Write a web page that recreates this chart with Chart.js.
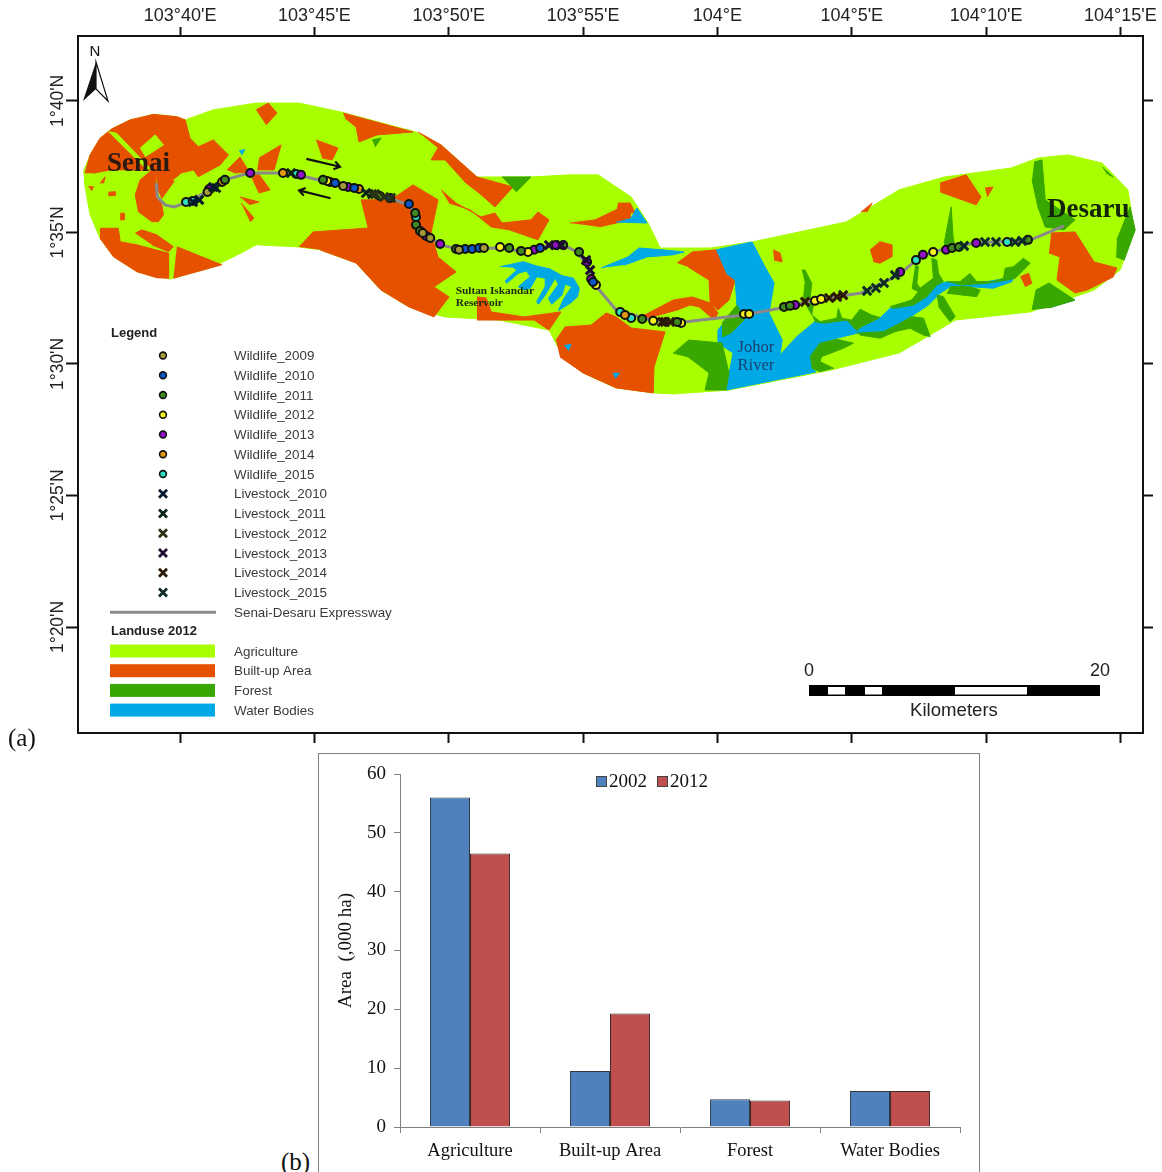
<!DOCTYPE html>
<html><head><meta charset="utf-8">
<script src="https://cdn.jsdelivr.net/npm/chart.js@4"></script>
<style>
html,body{margin:0;padding:0;background:#fff;width:1162px;height:1172px;overflow:hidden}
canvas{position:absolute;display:block}
#frameB{position:absolute;left:318px;top:753px;width:662px;height:430px;border:1px solid #7f7f7f;box-sizing:border-box}
.tag{position:absolute;font:25px "Liberation Serif",serif;color:#111}
</style></head><body>
<canvas id="map" style="left:0;top:0" width="1162" height="752"></canvas>
<div id="frameB"></div>
<canvas id="bars" style="left:318px;top:753px" width="661" height="419"></canvas>
<div class="tag" style="left:8px;top:724px">(a)</div>
<div class="tag" style="left:281px;top:1148px">(b)</div>
<script>
/* ===== panel (b) values ===== */
const barCategories=['Agriculture','Built-up Area','Forest','Water Bodies'];
const area2002=[56,9.5,4.7,6.1];
const area2012=[46.5,19.3,4.5,6.1];

/* ===== panel (a) axes: minutes past 103°E and minutes past 1°N ===== */
const lonTickValues=[40,45,50,55,60,65,70,75];
const lonTickLabels=["103°40'E","103°45'E","103°50'E","103°55'E","104°E","104°5'E","104°10'E","104°15'E"];
const latTickValues=[40,35,30,25,20];
const latTickLabels=["1°40'N","1°35'N","1°30'N","1°25'N","1°20'N"];

/* ===== land use polygons, [lon minutes, lat minutes] ===== */
const studyArea=[[36.40,37.31],[36.65,37.95],[37.02,38.58],[37.46,38.94],[38.14,39.28],[39.01,39.49],[39.88,39.40],[40.19,39.28],[41.23,39.66],[42.83,39.92],[44.43,39.92],[45.99,39.58],[48.78,38.82],[49.71,38.33],[51.05,37.11],[53.06,37.11],[54.52,37.19],[55.56,37.19],[56.79,36.35],[57.42,35.36],[57.87,34.41],[59.73,34.41],[61.29,34.64],[64.79,35.40],[66.76,36.62],[68.44,37.11],[70.93,37.45],[71.93,37.83],[73.05,37.95],[74.32,37.64],[75.28,36.62],[75.51,35.10],[74.99,33.57],[74.02,32.81],[71.64,31.98],[68.85,31.67],[67.80,31.03],[66.76,30.42],[64.23,29.77],[60.43,29.01],[58.35,28.86],[57.64,28.90],[56.23,29.09],[55.0,29.66],[54.26,30.27],[53.73,31.29],[51.87,31.67],[49.86,31.79],[48.52,32.17],[47.48,32.81],[46.55,33.84],[45.21,34.34],[44.43,34.45],[42.83,34.53],[42.27,34.22],[41.23,33.69],[39.63,33.23],[38.39,33.51],[37.52,34.08],[37.02,34.78],[36.65,35.67],[36.43,36.93]];
const agriPatches=[
[[37.33,38.83],[37.64,38.77],[38.88,37.44],[38.76,37.38]],
[[38.51,38.20],[39.07,38.71],[39.38,38.33],[38.70,37.88]],
[[39.75,36.99],[40.12,37.25],[40.31,36.99],[40.00,36.81]]];
const builtUp=[
[[36.46,37.25],[36.65,37.95],[37.02,38.58],[37.46,38.94],[38.14,39.28],[39.01,39.49],[39.88,39.40],[40.19,39.28],[40.37,38.58],[40.68,38.26],[41.24,38.52],[41.80,37.95],[41.49,37.57],[40.68,37.12],[40.50,37.38],[40.00,37.25],[39.32,36.30],[39.16,36.68],[39.11,37.38],[39.07,36.68],[39.32,36.05],[39.38,35.67],[39.19,35.41],[38.95,35.41],[38.45,35.79],[38.33,36.43],[38.51,36.99],[38.95,37.38],[37.39,37.38],[36.77,37.25]],
[[37.02,35.16],[37.70,35.16],[37.77,34.65],[38.39,34.53],[39.57,34.21],[39.57,33.26],[39.13,33.28],[38.39,33.51],[37.52,34.08],[37.02,34.78]],
[[39.88,34.46],[41.55,33.77],[39.75,33.26]],
[[38.33,34.97],[38.57,35.10],[39.13,34.91],[39.75,34.46],[39.57,34.27],[38.95,34.53]],
[[37.02,36.87],[37.21,37.12],[37.15,36.87]],
[[36.59,36.74],[36.77,36.74],[36.71,36.58]],
[[37.33,36.53],[37.58,36.55],[37.58,36.40],[37.33,36.40]],
[[37.77,35.73],[37.92,35.73],[37.92,35.48],[37.77,35.48]],
[[42.83,39.66],[43.28,39.92],[43.61,39.54],[43.20,39.09]],
[[45.06,38.52],[45.88,38.21],[45.66,37.76],[45.29,37.83]],
[[46.07,39.54],[48.67,38.82],[47.33,38.71],[46.66,38.44],[46.55,39.01],[46.14,39.35]],
[[48.86,38.82],[49.71,38.33],[51.05,37.11],[52.39,36.73],[51.72,35.97],[51.13,36.50],[50.64,36.88],[49.86,37.76],[49.34,37.76],[49.60,38.21]],
[[44.43,34.45],[44.95,35.02],[47.0,35.17],[46.74,36.24],[47.85,36.24],[48.67,36.81],[49.60,36.24],[49.34,34.98],[49.60,34.07],[50.27,33.50],[49.45,32.93],[50.01,32.55],[49.45,31.79],[48.52,32.17],[47.48,32.81],[46.55,33.84],[45.21,34.34]],
[[42.94,37.83],[43.76,38.33],[43.50,37.38],[42.87,37.38]],
[[41.75,37.38],[42.23,37.87],[42.57,37.30],[42.01,37.26]],
[[42.87,37.30],[43.35,36.62],[42.94,36.50],[42.68,37.07]],
[[42.23,36.35],[42.94,36.16],[42.57,36.05]],
[[42.27,36.12],[42.75,35.55],[42.61,35.40]],
[[49.71,36.62],[50.27,36.12],[51.20,35.59],[51.72,35.74],[51.98,35.36],[53.06,35.48],[53.32,35.78],[53.73,35.48],[53.32,34.72],[52.25,35.10],[51.58,35.21],[50.79,35.86],[50.01,36.12]],
[[54.52,35.36],[55.45,35.48],[56.75,36.12],[56.75,35.48],[55.60,35.21]],
[[51.05,32.55],[51.39,32.51],[51.58,31.98],[52.80,31.79],[54.18,31.98],[53.73,31.29],[53.18,31.67],[51.87,31.67],[51.05,31.67]],
[[53.99,30.91],[54.33,31.41],[55.30,31.48],[55.86,31.94],[56.23,31.79],[56.79,31.37],[58.05,31.22],[57.64,29.89],[57.61,28.90],[56.23,29.09],[55.0,29.66],[54.14,30.27]],
[[58.50,33.84],[59.06,34.26],[59.95,34.34],[60.32,33.46],[60.66,33.19],[60.43,32.43],[60.02,32.05],[59.73,32.32],[59.69,33.19],[58.91,33.69]],
[[57.16,31.79],[58.35,32.43],[59.06,32.55],[59.73,32.32],[60.02,31.94],[59.88,31.67],[59.32,32.17],[58.98,32.24],[58.50,32.05],[57.42,31.75]],
[[68.29,36.88],[69.26,37.19],[69.81,36.35],[69.63,36.05],[68.29,36.54]],
[[69.96,36.69],[70.26,36.73],[70.04,36.35]],
[[65.68,34.33],[66.05,34.65],[66.49,34.53],[66.49,34.08],[66.05,33.83],[65.81,33.89]],
[[65.35,35.78],[65.76,36.12],[65.57,35.78]],
[[62.07,34.34],[62.33,34.22],[62.41,33.88],[62.11,33.95]],
[[72.42,34.98],[73.31,35.02],[74.02,33.88],[74.87,33.65],[74.73,33.31],[73.76,32.81],[73.31,32.70],[72.64,33.19],[72.75,34.07],[72.34,34.22]],
[[71.27,33.32],[71.58,33.45],[71.70,33.07],[71.45,32.94]],
[[56.30,36.12],[56.75,36.12],[56.94,35.74],[56.23,35.78]]];
const forest=[
[[71.79,37.68],[72.08,37.76],[72.20,36.24],[73.31,35.48],[72.90,35.10],[72.20,35.21],[71.93,35.97],[71.71,37.0]],
[[74.87,34.72],[75.36,35.97],[75.55,35.10],[75.14,33.95],[74.84,34.07]],
[[71.71,32.05],[71.86,32.81],[72.34,33.08],[73.31,32.43],[72.34,32.13]],
[[74.32,37.49],[74.73,37.11],[74.47,37.26]],
[[60.17,31.56],[60.73,32.24],[60.99,31.67],[60.51,31.18],[60.17,31.03]],
[[58.91,30.91],[60.17,30.80],[60.43,29.66],[60.32,29.01],[59.54,29.01],[59.69,29.66],[58.91,30.27],[58.35,30.42]],
[[63.14,33.57],[63.26,33.57],[63.51,33.07],[63.45,32.50],[63.57,32.24],[63.51,31.87],[63.20,32.43],[63.26,33.07]],
[[63.51,31.87],[63.82,31.61],[64.44,31.74],[64.50,32.12],[64.63,31.74],[65.00,31.67],[65.31,32.08],[65.74,31.86],[66.05,31.77],[65.31,31.39],[65.19,31.27],[64.81,31.67],[63.95,31.55],[63.63,31.61]],
[[67.36,33.76],[67.48,33.70],[67.42,33.07],[67.54,32.88],[68.04,33.26],[67.98,34.02],[68.16,33.95],[68.23,33.44],[68.41,33.13],[68.16,33.00],[67.79,32.56],[67.29,32.24],[66.55,32.12],[66.43,32.18],[67.23,32.43],[67.48,32.75],[67.23,32.88]],
[[68.54,33.13],[69.03,33.13],[69.40,33.44],[69.65,33.13],[70.27,33.13],[70.65,33.26],[70.71,33.64],[71.02,33.70],[71.39,34.02],[71.64,33.83],[71.39,33.57],[71.08,33.26],[70.77,33.19],[70.02,33.07],[69.03,33.00]],
[[68.66,32.94],[69.40,32.94],[69.78,32.81],[69.65,32.56],[68.54,32.69]],
[[68.16,32.62],[68.41,32.56],[68.85,31.80],[68.66,31.61],[68.23,32.18]],
[[65.19,31.17],[66.18,31.23],[66.67,31.48],[67.23,31.80],[67.67,31.74],[67.92,31.04],[67.67,31.10],[67.17,31.36],[66.61,31.23],[66.05,30.98],[65.31,31.10]],
[[63.45,30.28],[63.82,30.79],[64.44,30.94],[65.06,30.79],[64.69,30.60],[64.19,30.40],[63.88,30.28],[63.82,30.09],[64.07,29.96],[64.32,29.84],[63.82,29.71],[63.51,29.84]],
[[68.44,34.60],[68.70,35.97],[68.77,34.83],[68.85,34.45],[68.44,34.34]],
[[51.98,37.11],[53.06,37.11],[52.51,36.54]],
[[47.15,38.52],[47.48,38.59],[47.26,38.25]]];
const water=[
[[59.95,34.34],[61.29,34.64],[61.77,33.69],[62.11,33.08],[61.92,31.94],[62.41,30.91],[62.33,30.34],[62.95,31.04],[63.63,31.61],[63.95,31.55],[64.81,31.67],[65.31,31.36],[66.05,31.74],[66.43,32.12],[67.29,32.24],[67.79,32.56],[68.16,33.00],[68.54,33.13],[69.03,33.07],[70.02,33.13],[70.77,33.26],[71.02,33.26],[70.95,33.13],[70.27,32.88],[69.40,32.94],[68.66,32.94],[68.29,32.69],[67.85,32.24],[67.29,31.86],[66.67,31.48],[66.18,31.23],[65.19,31.17],[64.44,30.98],[63.82,30.79],[63.45,30.28],[63.51,29.84],[63.67,29.70],[60.32,29.01],[60.58,30.42],[60.02,30.80],[60.02,31.29],[60.73,32.17],[60.66,33.19],[60.32,33.46]],
[[55.67,33.65],[56.67,34.07],[57.08,34.41],[57.94,34.34],[58.76,34.26],[58.35,34.15],[57.38,34.07],[56.53,33.76]],
[[51.91,33.70],[52.78,33.89],[53.21,33.74],[53.77,33.61],[54.21,33.36],[54.64,33.26],[54.86,32.88],[54.79,32.56],[54.52,32.31],[54.08,32.03],[54.29,32.50],[54.58,32.94],[54.33,33.03],[54.21,32.62],[53.83,32.27],[53.71,32.50],[54.08,33.03],[53.96,33.26],[53.59,32.62],[53.34,32.27],[53.27,32.37],[53.59,32.94],[53.59,33.26],[53.28,33.32],[53.03,32.88],[52.78,32.81],[52.59,32.94],[53.03,33.32],[52.90,33.54],[52.59,33.45],[52.16,33.07],[52.10,33.16],[52.53,33.57],[52.41,33.66]],
[[56.79,35.55],[57.0,35.93],[57.38,35.36],[56.23,35.40]],
[[72.12,32.32],[72.64,32.55],[73.31,32.43],[72.34,32.13]],
[[42.2,38.1],[42.4,38.15],[42.3,37.95]],
[[54.3,30.7],[54.55,30.75],[54.45,30.5]],
[[56.1,29.65],[56.35,29.65],[56.2,29.45]]];

/* ===== expressway ===== */
const expressway=[[39.11,36.88],[39.16,36.35],[39.44,36.05],[39.78,35.97],[40.30,36.16],[41.23,36.69],[41.67,37.0],[42.57,37.26],[43.87,37.26],[44.54,37.15],[45.36,36.95],[46.55,36.69],[47.74,36.31],[48.52,36.05],[48.75,35.74],[48.78,35.21],[49.34,34.79],[49.71,34.52],[50.38,34.37],[51.87,34.41],[52.65,34.30],[53.44,34.45],[54.26,34.52],[54.78,34.26],[55.19,33.69],[55.45,33.0],[56.23,32.05],[57.64,31.64],[58.76,31.60],[60.99,31.86],[62.56,32.17],[63.67,32.44],[65.35,32.70],[66.76,33.38],[67.39,33.95],[67.99,34.26],[69.55,34.60],[71.64,34.71],[72.90,35.25]];

/* ===== roadkill sightings ===== */
const wildlife2009=[[41.02,36.54],[46.07,36.77],[49.03,34.98],[49.31,34.79],[50.38,34.34],[51.31,34.41]];
const wildlife2010=[[45.77,36.88],[46.48,36.69],[47.82,36.31],[48.52,36.08],[50.61,34.37],[50.87,34.37],[51.13,34.41],[53.40,34.41],[55.37,33.12]];
const wildlife2011=[[41.67,37.0],[45.32,37.0],[47.44,36.39],[48.75,35.74],[48.78,35.29],[48.93,35.06],[50.27,34.37],[52.25,34.41],[52.69,34.30],[54.26,34.52],[54.85,34.26],[57.20,31.71],[58.50,31.60],[62.48,32.17],[62.70,32.21],[68.73,34.41],[68.99,34.45],[71.56,34.72]];
const wildlife2012=[[45.47,36.96],[51.91,34.45],[52.95,34.26],[55.48,33.0],[57.61,31.64],[58.65,31.56],[60.99,31.90],[61.18,31.90],[63.63,32.40],[63.86,32.47],[68.03,34.26]];
const wildlife2013=[[41.08,36.65],[42.61,37.26],[44.50,37.19],[46.25,36.73],[49.16,34.87],[49.68,34.56],[53.18,34.34],[53.99,34.52],[55.15,33.88],[55.30,33.23],[62.89,32.24],[66.80,33.50],[67.65,34.15],[68.51,34.34],[69.63,34.60]];
const wildlife2014=[[41.56,36.92],[43.83,37.26],[46.66,36.65],[56.56,31.86]];
const wildlife2015=[[40.22,36.16],[40.47,36.20],[44.32,37.22],[45.58,36.92],[48.78,35.59],[56.38,31.98],[56.79,31.75],[67.39,33.95],[70.78,34.64]];
const livestock2010=[[40.48,36.16],[40.71,36.24],[41.23,36.73]];
const livestock2011=[[41.34,36.69],[44.13,37.26],[46.92,36.50]];
const livestock2012=[[47.15,36.46],[47.26,36.46],[47.59,36.35],[47.85,36.31]];
const livestock2013=[[53.73,34.52],[54.18,34.52],[55.11,33.95],[55.26,33.57]];
const livestock2014=[[57.94,31.60],[58.05,31.60],[58.24,31.60],[63.26,32.36],[64.16,32.51],[64.45,32.55],[64.68,32.62]];
const livestock2015=[[65.57,32.78],[65.90,32.89],[66.20,33.08],[66.61,33.38],[69.18,34.49],[69.96,34.64],[70.37,34.64],[71.08,34.64],[71.34,34.68]];

/* ===== legend text and map labels ===== */
const wildlifeSeries=[['Wildlife_2009',wildlife2009,'#a39b3a'],['Wildlife_2010',wildlife2010,'#0a58c8'],['Wildlife_2011',wildlife2011,'#3f8a1e'],['Wildlife_2012',wildlife2012,'#f6f21f'],['Wildlife_2013',wildlife2013,'#9312c9'],['Wildlife_2014',wildlife2014,'#e39a10'],['Wildlife_2015',wildlife2015,'#2fe0c0']];
const livestockSeries=[['Livestock_2010',livestock2010,'#06182e'],['Livestock_2011',livestock2011,'#0a2414'],['Livestock_2012',livestock2012,'#2a3014'],['Livestock_2013',livestock2013,'#1c0a30'],['Livestock_2014',livestock2014,'#2c1a08'],['Livestock_2015',livestock2015,'#0c2a26']];
const landUseLegend=[['Agriculture','#a8ff00'],['Built-up Area','#e65100'],['Forest','#38a800'],['Water Bodies','#00a9e6']];
const flowEast=[[44.7,37.8],[45.95,37.5]];
const flowWest=[[45.6,36.3],[44.43,36.6]];

const pts=a=>a.map(p=>({x:p[0],y:p[1]}));
function poly(list,color,order,label){return list.map(a=>({label,data:pts(a),showLine:true,fill:'shape',tension:0,backgroundColor:color,borderColor:color,borderWidth:1,pointRadius:0,order}));}
const mapDatasets=[
 ...poly([studyArea],landUseLegend[0][1],100,'Agriculture'),
 ...poly(builtUp,landUseLegend[1][1],90,'Built-up Area'),
 ...poly(agriPatches,landUseLegend[0][1],85,'Agriculture'),
 ...poly(water,landUseLegend[3][1],84,'Water Bodies'),
 ...poly(forest,landUseLegend[2][1],83,'Forest'),
 {label:'Senai-Desaru Expressway',data:pts(expressway),showLine:true,tension:0,fill:false,borderColor:'#8a8a8a',borderWidth:3,pointRadius:0,order:50},
 ...wildlifeSeries.map(s=>({label:s[0],data:pts(s[1]),showLine:false,pointStyle:'circle',pointRadius:4,pointBorderWidth:2,pointBackgroundColor:s[2],pointBorderColor:'#111',order:20})),
 ...livestockSeries.map(s=>({label:s[0],data:pts(s[1]),showLine:false,pointStyle:'crossRot',pointRadius:6,pointBorderWidth:3,pointBorderColor:s[2],order:10}))
];

const sans='"Liberation Sans",Arial,sans-serif', serif='"Liberation Serif","Times New Roman",serif';
function txt(c,s,x,y,font,color,align){c.font=font;c.fillStyle=color||'#222';c.textAlign=align||'left';c.textBaseline='middle';c.fillText(s,x,y);}
const mapDecor={id:'mapDecor',afterDatasetsDraw(ch){
 const c=ch.ctx,X=ch.scales.x,Y=ch.scales.y,px=v=>X.getPixelForValue(v),py=v=>Y.getPixelForValue(v);
 c.save();
 [flowEast,flowWest].forEach(a=>{const x0=px(a[0][0]),y0=py(a[0][1]),x1=px(a[1][0]),y1=py(a[1][1]),t=Math.atan2(y1-y0,x1-x0);
  c.strokeStyle='#111';c.lineWidth=2.2;c.beginPath();c.moveTo(x0,y0);c.lineTo(x1,y1);
  c.moveTo(x1-7*Math.cos(t-.6),y1-7*Math.sin(t-.6));c.lineTo(x1,y1);c.lineTo(x1-7*Math.cos(t+.6),y1-7*Math.sin(t+.6));c.stroke();});
 txt(c,'Senai',px(37.28),py(37.6),'bold 27px '+serif,'#2a1a10');
 txt(c,'Desaru',px(72.27),py(35.87),'bold 27px '+serif,'#14240a');
 txt(c,'Sultan Iskandar',px(50.26),py(32.77),'bold 11.3px '+serif,'#1e2a10');
 txt(c,'Reservoir',px(50.26),py(32.32),'bold 11.3px '+serif,'#1e2a10');
 txt(c,'Johor',px(60.75),py(30.63),'16.5px '+serif,'#16406e');
 txt(c,'River',px(60.75),py(29.95),'16.5px '+serif,'#16406e');
 txt(c,'N',95,52,'15px '+sans,'#111','center');
 c.fillStyle='#111';c.beginPath();c.moveTo(96,62);c.lineTo(83,101);c.lineTo(96,89);c.closePath();c.fill();
 c.fillStyle='#fff';c.strokeStyle='#111';c.lineWidth=1.2;c.beginPath();c.moveTo(96,62);c.lineTo(108,101);c.lineTo(96,89);c.closePath();c.fill();c.stroke();
 txt(c,'Legend',111,333,'bold 13px '+sans,'#222');
 const lf='13.4px '+sans,lc='#3a3a3a';let row=355.5;const dy=19.75;
 wildlifeSeries.forEach(s=>{c.beginPath();c.arc(163,row,3.4,0,7);c.fillStyle=s[2];c.fill();c.strokeStyle='#111';c.lineWidth=1.6;c.stroke();txt(c,s[0],234,row+1,lf,lc);row+=dy;});
 livestockSeries.forEach(s=>{c.strokeStyle=s[2];c.lineWidth=2.8;c.beginPath();c.moveTo(159,row-4);c.lineTo(167,row+4);c.moveTo(167,row-4);c.lineTo(159,row+4);c.stroke();txt(c,s[0],234,row+1,lf,lc);row+=dy;});
 c.strokeStyle='#8a8a8a';c.lineWidth=3;c.beginPath();c.moveTo(110,row);c.lineTo(216,row);c.stroke();txt(c,'Senai-Desaru Expressway',234,row+1,lf,lc);
 txt(c,'Landuse 2012',111,631.5,'bold 13px '+sans,'#222');
 row=651;landUseLegend.forEach(s=>{c.fillStyle=s[1];c.fillRect(110,row-6.5,105,13);txt(c,s[0],234,row+1,lf,lc);row+=19.7;});
 c.fillStyle='#000';c.fillRect(809,685,291,11);c.fillStyle='#fff';[[828,17],[865,17],[955,72]].forEach(r=>c.fillRect(r[0],687,r[1],7.5));
 txt(c,'0',809,671,'18px '+sans,'#222','center');txt(c,'20',1100,671,'18px '+sans,'#222','center');txt(c,'Kilometers',954,710.5,'18.6px '+sans,'#222','center');
 c.restore();
}};
const LON=[36.2,75.84],LAT=[15.97,42.47];
const axisGrid=l=>({drawOnChartArea:false,drawTicks:true,tickLength:l,tickWidth:2,tickColor:'#111',color:'#111'});
const border={display:true,color:'#111',width:2};
new Chart(document.getElementById('map'),{type:'scatter',data:{datasets:mapDatasets},plugins:[mapDecor],options:{
 responsive:false,animation:false,events:[],devicePixelRatio:1,layout:{autoPadding:false,padding:0},
 plugins:{legend:{display:false},tooltip:{enabled:false}},
 scales:{
  x:{type:'linear',position:'top',min:LON[0],max:LON[1],grid:axisGrid(9),border,afterBuildTicks:a=>{a.ticks=lonTickValues.map(v=>({value:v}));},
     afterFit:a=>{a.height=36;},ticks:{autoSkip:false,maxRotation:0,font:{family:sans,size:18},color:'#222',padding:0,callback:(v,i)=>lonTickLabels[i]}},
  xb:{type:'linear',position:'bottom',min:LON[0],max:LON[1],grid:axisGrid(10),border,afterBuildTicks:a=>{a.ticks=lonTickValues.map(v=>({value:v}));},
     afterFit:a=>{a.height=19;},ticks:{display:false}},
  y:{type:'linear',position:'left',min:LAT[0],max:LAT[1],grid:axisGrid(12),border,afterBuildTicks:a=>{a.ticks=latTickValues.map(v=>({value:v}));},
     afterFit:a=>{a.width=78;},ticks:{autoSkip:false,minRotation:90,maxRotation:90,crossAlign:'center',font:{family:sans,size:17.5},color:'#222',padding:-18,callback:(v,i)=>latTickLabels[i]}},
  yr:{type:'linear',position:'right',min:LAT[0],max:LAT[1],grid:axisGrid(10),border,afterBuildTicks:a=>{a.ticks=latTickValues.map(v=>({value:v}));},
     afterFit:a=>{a.width=19;},ticks:{display:false}}
 }}});

/* ===== panel (b) ===== */
const barColors=['#4f81bd','#c0504d'];
const barSeriesNames=['2002','2012'];
const barLegend={id:'barLegend',afterDraw(ch){const c=ch.ctx;c.save();
 [[278,291],[339,352]].forEach((p,i)=>{c.fillStyle=barColors[i];c.fillRect(p[0],23,10.5,11);c.strokeStyle='#444';c.lineWidth=1;c.strokeRect(p[0]+.5,23.5,10,10);
 txt(c,barSeriesNames[i],p[1],29,'19px '+serif,'#111');});c.restore();}};
new Chart(document.getElementById('bars'),{type:'bar',plugins:[barLegend],data:{labels:barCategories,datasets:[
 {label:barSeriesNames[0],data:area2002,backgroundColor:barColors[0],borderColor:'#2f3a44',borderWidth:1,barPercentage:1,categoryPercentage:.572},
 {label:barSeriesNames[1],data:area2012,backgroundColor:barColors[1],borderColor:'#3a2a2a',borderWidth:1,barPercentage:1,categoryPercentage:.572}]},
 options:{responsive:false,animation:false,events:[],devicePixelRatio:1,layout:{autoPadding:false,padding:{top:21,right:19,bottom:0,left:0}},
 plugins:{tooltip:{enabled:false},legend:{display:false}},
 scales:{
  x:{afterFit:a=>{a.height=45;},grid:{offset:true,drawOnChartArea:false,tickLength:6,color:'#808080'},border:{color:'#808080'},ticks:{font:{family:serif,size:18.5},color:'#111',padding:7}},
  y:{min:0,max:60,afterFit:a=>{a.width=82;},grid:{drawOnChartArea:false,tickLength:6,color:'#808080'},border:{color:'#808080'},ticks:{stepSize:10,font:{family:serif,size:19},color:'#111',padding:8},
     title:{display:true,text:'Area  (,000 ha)',font:{family:serif,size:19},color:'#111',padding:{top:17,bottom:0}}}
 }}});
</script></body></html>
